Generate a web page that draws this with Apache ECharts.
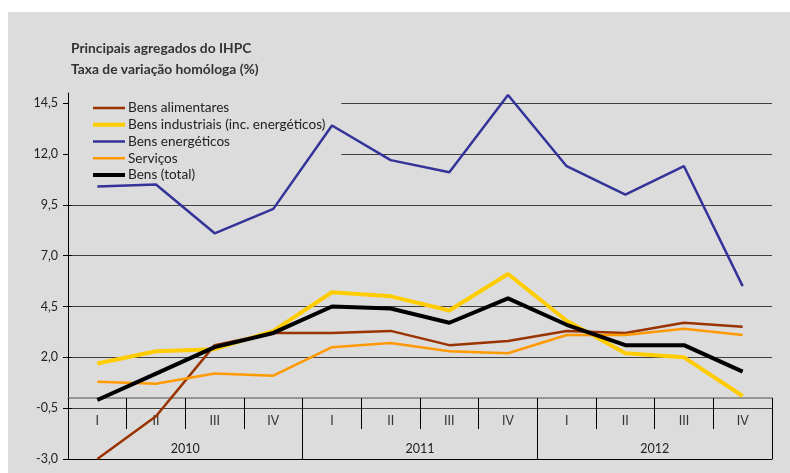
<!DOCTYPE html>
<html>
<head>
<meta charset="utf-8">
<script src="https://cdn.jsdelivr.net/npm/echarts@6/dist/echarts.min.js"></script>
<style>
  html, body { margin: 0; padding: 0; background: #ffffff; }
  #main { position: absolute; left: 8px; top: 12px; width: 782px; height: 461px; }
</style>
</head>
<body>
<div id="main"></div>
<script>
    // dados
    var quarters = ['I', 'II', 'III', 'IV', 'I', 'II', 'III', 'IV', 'I', 'II', 'III', 'IV'];
    var years = ['2010', '2011', '2012'];
    var yTicks = [-3.0, -0.5, 2.0, 4.5, 7.0, 9.5, 12.0, 14.5];

    var alimentares = [-3.0, -0.9, 2.6, 3.2, 3.2, 3.3, 2.6, 2.8, 3.3, 3.2, 3.7, 3.5];
    var industriais = [1.7, 2.3, 2.4, 3.3, 5.2, 5.0, 4.3, 6.1, 3.8, 2.2, 2.0, 0.1];
    var energeticos = [10.4, 10.5, 8.1, 9.3, 13.4, 11.7, 11.1, 14.9, 11.4, 10.0, 11.4, 5.5];
    var servicos = [0.8, 0.7, 1.2, 1.1, 2.5, 2.7, 2.3, 2.2, 3.1, 3.1, 3.4, 3.1];
    var bensTotal = [-0.1, 1.2, 2.5, 3.2, 4.5, 4.4, 3.7, 4.9, 3.6, 2.6, 2.6, 1.3];

    var myChart = echarts.init(document.getElementById('main'));
    var fontFamily = 'Lato';
    var option = {
        animation: false,
        backgroundColor: '#dcdcdc',
        textStyle: { fontFamily: fontFamily },
        title: {
            text: 'Principais agregados do IHPC\nTaxa de variação homóloga (%)',
            left: 63,
            top: 26,
            padding: 0,
            textStyle: {
                fontFamily: fontFamily,
                fontSize: 13.8,
                fontWeight: 'bold',
                color: '#333333',
                lineHeight: 21
            }
        },
        legend: {
            orient: 'vertical',
            left: 61,
            top: 84,
            padding: [5, 16, 4, 22],
            backgroundColor: '#dcdcdc',
            itemWidth: 32,
            itemHeight: 14,
            itemGap: 2.75,
            z: 1,
            lineStyle: { width: 'inherit' },
            itemStyle: { opacity: 0, color: 'transparent', borderWidth: 0 },
            textStyle: {
                fontFamily: fontFamily,
                fontSize: 13.6,
                color: '#222222',
                padding: [0, 0, 0, -2]
            },
            data: ['Bens alimentares', 'Bens industriais (inc. energéticos)', 'Bens energéticos', 'Serviços', 'Bens (total)']
        },
        grid: {
            left: 60,
            right: 18,
            top: 81,
            bottom: 14,
            outerBoundsMode: 'none'
        },
        xAxis: [
            {
                type: 'category',
                data: quarters,
                position: 'bottom',
                offset: -61,
                axisLine: { onZero: false, lineStyle: { color: '#7f7f7f', width: 1.5 } },
                axisTick: { show: true, length: 31, lineStyle: { color: '#000000' } },
                axisLabel: { margin: 16, fontSize: 12.5, color: '#333333', fontFamily: fontFamily },
                splitLine: { show: false }
            },
            {
                type: 'category',
                data: years,
                position: 'bottom',
                axisLine: { onZero: false, lineStyle: { color: '#000000', width: 1 } },
                axisTick: { show: true, inside: true, length: 61, lineStyle: { color: '#000000' } },
                axisLabel: { inside: true, margin: 4, fontSize: 12.5, color: '#222222', fontFamily: fontFamily },
                splitLine: { show: false }
            }
        ],
        yAxis: [
            {
                type: 'value',
                min: -3,
                max: 15,
                interval: 2.5,
                axisLine: { show: true, lineStyle: { color: '#000000', width: 1 } },
                axisTick: { show: true, length: 5, customValues: yTicks, lineStyle: { color: '#000000' } },
                axisLabel: {
                    customValues: yTicks,
                    margin: 10,
                    fontSize: 12.5,
                    color: '#222222',
                    fontFamily: fontFamily,
                    formatter: function (v) {
                        return v.toFixed(1).replace('.', ',');
                    }
                },
                splitLine: {
                    show: true,
                    showMaxLine: true,
                    showMinLine: false,
                    lineStyle: { color: '#404040', width: 1 }
                }
            },
            {
                // marcas do lado de dentro do eixo
                type: 'value',
                position: 'left',
                min: -3,
                max: 15,
                interval: 2.5,
                axisLine: { show: false },
                axisTick: { show: true, inside: true, length: 4, customValues: yTicks, lineStyle: { color: '#000000' } },
                axisLabel: { show: false },
                splitLine: { show: false }
            }
        ],
        series: [
            {
                name: 'Bens alimentares',
                type: 'line',
                data: alimentares,
                symbol: 'none',
                lineStyle: { color: '#993300', width: 2.5 },
                itemStyle: { color: '#993300' }
            },
            {
                name: 'Bens industriais (inc. energéticos)',
                type: 'line',
                data: industriais,
                symbol: 'none',
                lineStyle: { color: '#ffcc00', width: 4 },
                itemStyle: { color: '#ffcc00' }
            },
            {
                name: 'Bens energéticos',
                type: 'line',
                data: energeticos,
                symbol: 'none',
                lineStyle: { color: '#333399', width: 2.5 },
                itemStyle: { color: '#333399' }
            },
            {
                name: 'Serviços',
                type: 'line',
                data: servicos,
                symbol: 'none',
                lineStyle: { color: '#ff9900', width: 2.5 },
                itemStyle: { color: '#ff9900' }
            },
            {
                name: 'Bens (total)',
                type: 'line',
                data: bensTotal,
                symbol: 'none',
                lineStyle: { color: '#000000', width: 4 },
                itemStyle: { color: '#000000' }
            }
        ]
    };
    myChart.setOption(option);
</script>
</body>
</html>
